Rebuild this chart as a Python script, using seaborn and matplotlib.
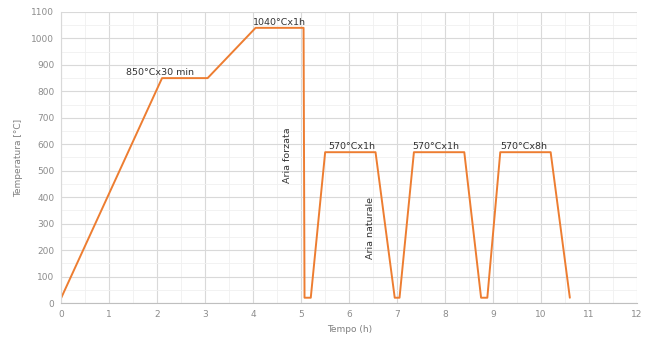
import pandas as pd
import seaborn as sns
import matplotlib.pyplot as plt
from matplotlib.ticker import MultipleLocator

# heat treatment cycle: time [h] vs temperature [°C]
tempo = [0, 2.1, 3.05, 4.05, 5.05, 5.07, 5.2, 5.5, 6.55, 6.95, 7.05, 7.35, 8.4,
         8.75, 8.88, 9.15, 10.2, 10.6]
temperatura = [20, 850, 850, 1040, 1040, 20, 20, 570, 570, 20, 20, 570, 570,
               20, 20, 570, 570, 20]

# plateau labels
etichette = ["850°Cx30 min", "1040°Cx1h", "570°Cx1h", "570°Cx1h", "570°Cx8h"]
etichette_x = [2.05, 4.55, 6.05, 7.8, 9.65]
etichette_y = [855, 1045, 575, 575, 575]

x_ticks = list(range(0, 13))
y_ticks = list(range(0, 1101, 100))

df = pd.DataFrame({"Tempo": tempo, "Temperatura": temperatura})

sns.set_style("white")
plt.rcParams["font.family"] = ["DejaVu Sans"]

fig, ax = plt.subplots(figsize=(6.52, 3.42), dpi=100)
fig.subplots_adjust(left=0.094, right=0.977, top=0.965, bottom=0.114)

sns.lineplot(data=df, x="Tempo", y="Temperatura", sort=False, estimator=None,
             color="#ED7D31", linewidth=1.4, ax=ax)

ax.set_xlim(0, 12)
ax.set_ylim(0, 1100)
ax.set_xticks(x_ticks)
ax.set_yticks(y_ticks)
ax.xaxis.set_minor_locator(MultipleLocator(0.5))
ax.yaxis.set_minor_locator(MultipleLocator(50))
ax.grid(which="major", color="#d9d9d9", linewidth=0.8)
ax.grid(which="minor", color="#f0f0f0", linewidth=0.6)
ax.set_axisbelow(True)
ax.tick_params(which="both", length=0, labelsize=6.5, labelcolor="#8c8c8c", pad=5)

for side in ["top", "right"]:
    ax.spines[side].set_visible(False)
ax.spines["left"].set_color("#d9d9d9")
ax.spines["bottom"].set_color("#bfbfbf")

ax.set_xlabel("Tempo (h)", fontsize=6.5, color="#7f7f7f", labelpad=4)
ax.set_ylabel("Temperatura [°C]", fontsize=6.5, color="#7f7f7f", labelpad=6)

for testo, tx, ty in zip(etichette, etichette_x, etichette_y):
    ax.text(tx, ty, testo, ha="center", va="bottom", fontsize=6.8, color="#333333")

ax.text(4.72, 560, "Aria forzata", rotation=90, ha="center", va="center",
        fontsize=6.8, color="#333333")
ax.text(6.45, 285, "Aria naturale", rotation=90, ha="center", va="center",
        fontsize=6.8, color="#333333")

fig.savefig("out.png", dpi=100)
